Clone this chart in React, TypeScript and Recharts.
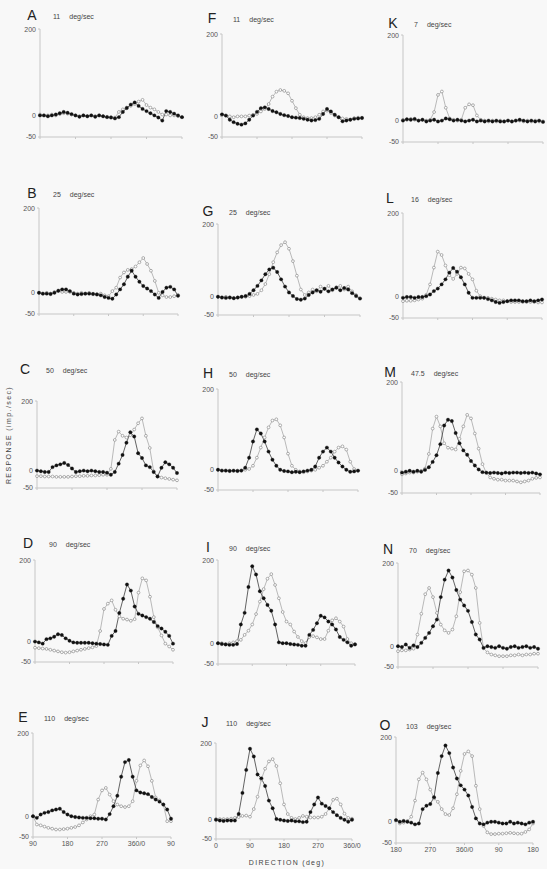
import { Line, LineChart, XAxis, YAxis } from "recharts"

// each curve: 37 samples, one every 10 deg around the full circle
const aFilled = [0, 0, -2, 0, 2, 5, 8, 6, 3, 0, -3, 0, -2, 0, -3, 0, -2, -4, -5, -7, -4, 8, 17, 25, 30, 22, 15, 10, 5, 0, -5, -12, 10, 8, 4, 0, -4]
const aOpen = [2, 0, 0, 2, 0, 3, 5, 4, 2, 0, -2, 0, -2, 0, -2, 0, -2, -3, -4, -5, 8, 14, 18, 22, 26, 32, 36, 24, 18, 14, 8, 2, 2, 0, 0, -2, -4]
const bFilled = [0, -2, -2, -3, 0, 5, 8, 8, 4, -2, -4, -3, -2, -2, -3, -4, -6, -10, -12, -14, -4, 8, 20, 38, 52, 38, 26, 16, 10, 4, -4, -12, 2, 12, 14, 8, -7]
const bOpen = [0, -2, 0, -2, 2, 4, 2, 2, 2, 0, -2, 0, -2, 0, -2, -3, -2, -6, -8, 4, 12, 36, 48, 54, 56, 62, 72, 82, 68, 52, 28, 0, -6, -10, -10, -8, -5]
const cFilled = [0, -2, -4, -4, 10, 15, 18, 22, 16, 6, -4, -2, 0, -2, 0, -2, -4, -4, -6, -12, -4, 20, 45, 80, 110, 98, 50, 36, 15, 10, -4, -17, 8, 24, 18, 8, -7]
const cOpen = [-16, -16, -17, -17, -17, -18, -18, -18, -18, -17, -16, -16, -15, -15, -14, -14, -13, -12, -12, 5, 88, 112, 100, 95, 102, 118, 136, 150, 100, 65, -2, -17, -20, -22, -24, -26, -28]
const dFilled = [0, -2, -5, 6, 8, 12, 18, 16, 8, 2, -2, -3, -3, -3, -3, -4, -5, -6, -7, -8, 14, 26, 70, 105, 140, 125, 86, 68, 64, 60, 56, 48, 38, 32, 24, 14, -5]
const dOpen = [-15, -16, -17, -18, -20, -22, -24, -26, -27, -26, -24, -22, -20, -18, -16, -14, -11, 26, 80, 93, 101, 78, 62, 56, 54, 51, 55, 120, 155, 150, 110, 60, 35, 15, -5, -12, -20]
const eFilled = [0, -4, 4, 8, 10, 14, 16, 18, 10, 4, 0, -2, -3, -4, -4, -5, -5, -6, -6, -8, 5, 24, 49, 95, 130, 135, 95, 62, 57, 55, 53, 46, 40, 35, 28, 16, -6]
const eOpen = [0, -20, -22, -25, -28, -30, -32, -32, -31, -30, -28, -26, -22, -15, -8, 0, 4, 40, 62, 68, 52, 36, 28, 24, 22, 24, 36, 85, 122, 134, 120, 85, 45, 38, 28, -12, -12]
const fFilled = [5, 2, -8, -14, -18, -20, -17, -8, 2, 11, 20, 22, 18, 13, 10, 6, 3, 1, -2, -3, -4, -6, -8, -10, -9, -6, 6, 18, 12, 4, -2, -12, -10, -8, -6, -5, -4]
const fOpen = [4, 2, 0, -2, 0, 0, 0, 2, 4, 6, 12, 18, 30, 48, 60, 64, 62, 56, 38, 20, 4, -2, -4, -4, -2, 4, 12, 14, 8, 2, -2, -5, -6, -8, -4, -3, -3]
const gFilled = [0, -2, -3, -2, -4, -2, 0, 2, 8, 18, 30, 45, 62, 75, 80, 68, 48, 28, 12, 2, -6, -8, -5, 5, 12, 18, 14, 22, 15, 20, 25, 18, 24, 20, 10, 2, -5]
const gOpen = [0, -2, 0, -2, -3, -2, 0, 0, 2, 5, 8, 18, 35, 62, 95, 122, 142, 150, 132, 98, 58, 20, 5, 12, 20, 15, 28, 22, 30, 18, 26, 30, 20, 28, 15, 5, -4]
const hFilled = [0, -2, -2, -3, -2, -3, -2, 5, 30, 70, 100, 90, 70, 45, 25, 10, 0, -3, -4, -6, -5, -6, -4, -2, 0, 8, 30, 45, 55, 45, 30, 18, 8, 0, -5, -4, -2]
const hOpen = [0, -2, -2, -2, -3, -2, -2, 0, 2, 10, 30, 55, 80, 105, 122, 125, 110, 80, 40, 10, 0, -4, -6, -4, -2, 0, 5, 10, 20, 30, 45, 55, 58, 50, 20, 2, -3]
const iFilled = [0, -2, -3, -4, -4, -2, 45, 73, 135, 185, 165, 125, 108, 92, 78, 45, 2, 0, 0, -2, -3, -4, -6, -6, 20, 32, 48, 66, 62, 52, 45, 33, 15, 8, 2, -6, -3]
const iOpen = [0, 0, -2, 0, 2, 5, 8, 20, 30, 45, 70, 100, 130, 155, 166, 140, 108, 75, 52, 45, 28, 15, 5, 0, 15, 17, 14, 10, 10, 30, 55, 60, 52, 40, 10, 0, -2]
const jFilled = [0, -2, -3, -2, -2, -2, 15, 70, 130, 185, 165, 118, 108, 88, 50, 30, 2, 0, -2, -3, -2, -4, -4, -6, -5, 20, 40, 58, 42, 36, 30, 20, 12, 5, 0, -5, 0]
const jOpen = [2, 2, 2, 2, 3, 5, 7, 10, 11, 8, 28, 60, 105, 133, 152, 158, 140, 95, 40, 15, 5, 2, 5, 10, 8, 6, 6, 6, 8, 15, 30, 52, 55, 40, 16, 5, 3]
const kFilled = [0, 3, 2, 4, 0, 2, -2, 0, 2, -2, 0, 5, 3, 0, 2, 0, -2, 0, 2, -2, 0, -2, 0, -2, 0, -2, -2, 0, -2, 0, 2, 0, -2, 0, -2, 0, -3]
const kOpen = [2, 2, 4, 2, 0, 2, 0, 2, 20, 60, 68, 30, 5, 2, 0, 2, 30, 38, 36, 12, 2, 0, -2, 0, -2, 0, -2, 0, -2, 0, 0, -2, 0, -2, 0, -2, -2]
const lFilled = [-2, 0, 0, -2, 0, 0, 2, 6, 14, 20, 30, 42, 58, 69, 60, 47, 30, 10, -2, -2, -2, -2, -5, -8, -12, -14, -12, -10, -8, -8, -8, -10, -10, -8, -10, -8, -6]
const lOpen = [-10, -9, -9, -8, -6, -4, 5, 30, 70, 108, 100, 75, 52, 43, 55, 70, 68, 55, 42, 15, 2, -2, -2, -4, -6, -8, -8, -10, -12, -12, -12, -12, -12, -12, -12, -13, -13]
const mFilled = [-4, -2, 0, -2, 0, -2, 2, 8, 20, 35, 60, 102, 115, 112, 85, 62, 46, 36, 22, 12, 3, -3, -4, -5, -4, -5, -6, -4, -5, -4, -4, -5, -4, -5, -4, -6, -8]
const mOpen = [-8, -6, -4, -4, -2, 0, 5, 38, 95, 122, 100, 62, 52, 50, 48, 72, 100, 126, 118, 84, 50, 15, -5, -15, -18, -20, -20, -22, -22, -22, -24, -26, -24, -22, -18, -16, -15]
const nFilled = [0, -2, 4, -4, 2, -2, 8, 20, 32, 48, 64, 118, 160, 182, 165, 135, 112, 98, 85, 58, 28, 16, -4, 0, -2, -4, 0, -4, -6, -2, 0, -4, -2, 0, -4, -2, -6]
const nOpen = [-12, -10, -10, -8, -6, 28, 78, 125, 140, 118, 80, 52, 38, 32, 40, 72, 130, 180, 182, 172, 140, 56, -5, -15, -20, -22, -24, -24, -24, -22, -22, -20, -22, -20, -20, -18, -18]
const oFilled = [4, 0, 2, 0, -2, -6, -4, 30, 38, 42, 58, 115, 155, 180, 162, 128, 102, 86, 76, 62, 35, 8, -4, -6, -2, 0, 0, -2, -4, -4, 0, -4, -2, -4, -6, -2, 0]
const oOpen = [4, -4, -2, 2, 12, 50, 100, 116, 100, 76, 55, 47, 30, 18, 16, 32, 65, 120, 160, 166, 155, 85, 30, -10, -25, -29, -29, -28, -28, -27, -26, -27, -28, -28, -24, -18, -4]

const letters = ["A", "B", "C", "D", "E", "F", "G", "H", "I", "J", "K", "L", "M", "N", "O"]
const speeds = ["11", "25", "50", "90", "110", "11", "25", "50", "90", "110", "7", "16", "47.5", "70", "103"]
const columnStart = [90, 0, 180]
const columnTickLabels = [
  ["90", "180", "270", "360/0", "90"],
  ["0", "90", "180", "270", "360/0"],
  ["180", "270", "360/0", "90", "180"],
]
const yTicks = [-50, 0, 200]

const filledSeries = [aFilled, bFilled, cFilled, dFilled, eFilled, fFilled, gFilled, hFilled, iFilled, jFilled, kFilled, lFilled, mFilled, nFilled, oFilled]
const openSeries = [aOpen, bOpen, cOpen, dOpen, eOpen, fOpen, gOpen, hOpen, iOpen, jOpen, kOpen, lOpen, mOpen, nOpen, oOpen]

// where each panel sits on the page (the scan is a bit skewed):
// axis x, right end x, y of 200, y of -50, letter x, letter y
const boxes = [
  [40, 182, 29, 137, 32, 15],
  [39, 178, 208, 314, 32, 193],
  [37, 177, 401, 488, 25, 369],
  [35, 173, 560, 662, 28, 543],
  [33, 171, 733, 837, 23, 717],
  [222, 362, 34, 137, 212, 18],
  [218, 360, 224, 315, 208, 211],
  [218, 358, 389, 490, 208, 373],
  [218, 355, 560, 664, 208, 547],
  [216, 352, 743, 839, 205, 722],
  [403, 543, 35, 142, 393, 23],
  [403, 542, 213, 318, 390, 198],
  [402, 540, 382, 493, 390, 372],
  [398, 538, 563, 667, 388, 549],
  [396, 533, 737, 843, 385, 725],
]

const font = "'Liberation Sans', Arial, sans-serif"

function Panel({ index }: { index: number }) {
  const col = Math.floor(index / 5)
  const row = index % 5
  const start = columnStart[col]
  const [ax, rx, top, bottom, lx, ly] = boxes[index]
  const yw = 24
  const mt = 3
  const mr = 14
  const xh = 16
  const ticks = columnTickLabels[col].map((_, k) => start + k * 90)
  const data = filledSeries[index].map((v, i) => ({
    deg: start + i * 10,
    filled: v,
    open: openSeries[index][i],
  }))
  const isBottom = row === 4

  return (
    <>
      <div style={{ position: "absolute", left: ax - yw, top: top - mt }}>
        <LineChart
          width={yw + (rx - ax) + mr}
          height={mt + (bottom - top) + xh}
          data={data}
          margin={{ top: mt, right: mr, bottom: 0, left: 0 }}
        >
          <XAxis
            dataKey="deg"
            type="number"
            domain={[start, start + 360]}
            ticks={ticks}
            interval={0}
            height={xh}
            stroke="#c6c6c6"
            tickSize={2}
            tickFormatter={v => (isBottom ? columnTickLabels[col][ticks.indexOf(v)] : "")}
            tick={{ fontSize: 7, fill: "#555", fontFamily: font }}
          />
          <YAxis
            type="number"
            domain={[-50, 200]}
            ticks={yTicks}
            interval={0}
            width={yw}
            stroke="#c6c6c6"
            tickSize={2}
            tick={{ fontSize: 7, fill: "#555", fontFamily: font }}
          />
          <Line
            dataKey="open"
            type="linear"
            stroke="#a8a8a8"
            strokeWidth={0.8}
            dot={{ r: 1.4, fill: "#fff", stroke: "#8c8c8c", strokeWidth: 0.7 }}
            isAnimationActive={false}
          />
          <Line
            dataKey="filled"
            type="linear"
            stroke="#3c3c3c"
            strokeWidth={0.8}
            dot={{ r: 1.7, fill: "#111", stroke: "#111", strokeWidth: 0.3 }}
            isAnimationActive={false}
          />
        </LineChart>
      </div>
      <div
        style={{
          position: "absolute",
          left: lx,
          top: ly,
          transform: "translate(-50%, -50%)",
          fontSize: 14,
          lineHeight: "16px",
          color: "#222",
          fontFamily: font,
        }}
      >
        {letters[index]}
      </div>
      <div
        style={{
          position: "absolute",
          left: lx + 21,
          top: ly + 1,
          transform: "translateY(-50%)",
          fontSize: 7,
          lineHeight: "9px",
          color: "#444",
          whiteSpace: "nowrap",
          fontFamily: font,
        }}
      >
        {speeds[index]}
        <span style={{ marginLeft: 9 }}>deg/sec</span>
      </div>
    </>
  )
}

export default function App() {
  return (
    <div
      style={{
        position: "absolute",
        left: 0,
        top: 0,
        width: 547,
        height: 869,
        background: "#f8f8f8",
        overflow: "hidden",
      }}
    >
      {letters.map((_, i) => (
        <Panel key={i} index={i} />
      ))}
      <div
        style={{
          position: "absolute",
          left: 8,
          top: 435,
          transform: "translate(-50%, -50%) rotate(-90deg)",
          fontSize: 7,
          letterSpacing: 1.4,
          color: "#444",
          whiteSpace: "nowrap",
          fontFamily: font,
        }}
      >
        RESPONSE (imp./sec)
      </div>
      <div
        style={{
          position: "absolute",
          left: 287,
          top: 862,
          transform: "translate(-50%, -50%)",
          fontSize: 7,
          letterSpacing: 1.3,
          color: "#444",
          whiteSpace: "nowrap",
          fontFamily: font,
        }}
      >
        DIRECTION (deg)
      </div>
    </div>
  )
}
